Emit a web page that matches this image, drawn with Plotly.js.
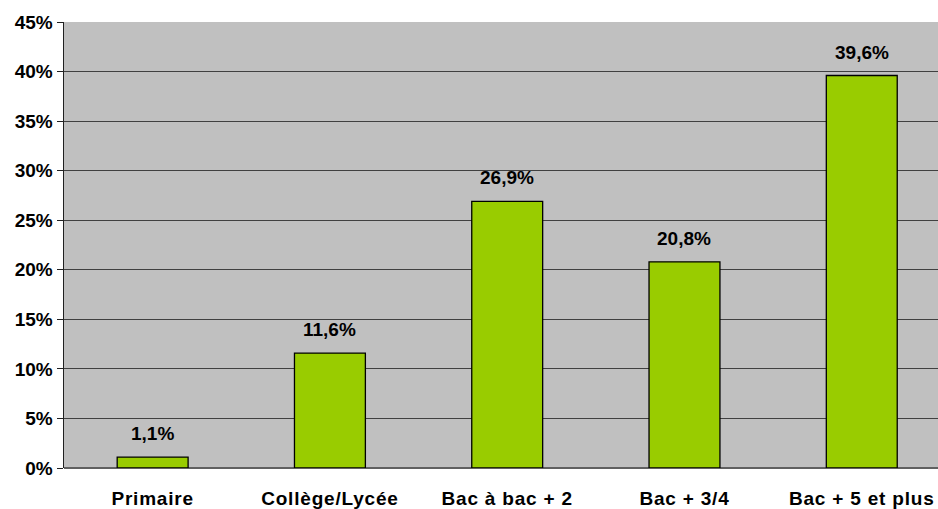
<!DOCTYPE html>
<html>
<head>
<meta charset="utf-8">
<script src="https://cdn.plot.ly/plotly-3.0.1.min.js"></script>
<style>html,body{margin:0;padding:0;background:#fff;}#chart{width:938px;height:509px;}
.xtick text{letter-spacing:0.8px;}</style>
</head>
<body>
<div id="chart"></div>
<script>
const categories = ["Primaire", "Collège/Lycée", "Bac à bac + 2", "Bac + 3/4", "Bac + 5 et plus"];
const values = [1.1, 11.6, 26.9, 20.8, 39.6];
const yTicks = [0, 5, 10, 15, 20, 25, 30, 35, 40, 45];

const fontFam = '"Liberation Sans", Arial, sans-serif';
const labels = values.map(v => v.toFixed(1).replace('.', ',') + '%');
const FS = 19;

const trace = {
  type: 'bar',
  x: categories,
  y: values,
  marker: { color: '#99CC00', line: { color: '#000000', width: 1.3 } },
  hoverinfo: 'none'
};

const annotations = categories.map((c, i) => ({
  x: c, y: values[i], xref: 'x', yref: 'y',
  text: labels[i], showarrow: false,
  yanchor: 'bottom', yshift: 11,
  font: { family: fontFam, size: FS, color: '#000', weight: 'bold' }
}));

const layout = {
  width: 938, height: 509,
  margin: { l: 64, r: 0, t: 22, b: 41 },
  paper_bgcolor: '#ffffff',
  plot_bgcolor: '#C0C0C0',
  bargap: 0.6,
  showlegend: false,
  font: { family: fontFam, size: FS, color: '#000', weight: 'bold' },
  xaxis: {
    type: 'category',
    range: [-0.5, 4.43],
    showgrid: false,
    showline: false,
    zeroline: false,
    ticks: 'outside', ticklen: 13, tickcolor: 'rgba(0,0,0,0)',
    tickfont: { family: fontFam, size: FS, color: '#000', weight: 'bold' }
  },
  yaxis: {
    range: [0, 45],
    tickvals: yTicks,
    ticktext: yTicks.map(t => t + '%'),
    showgrid: true, gridcolor: '#404040', gridwidth: 1,
    zeroline: true, zerolinecolor: '#606060', zerolinewidth: 1.5,
    showline: true, linecolor: '#202020', linewidth: 1.5,
    ticks: 'outside', ticklen: 6, tickcolor: '#202020',
    tickfont: { family: fontFam, size: FS, color: '#000', weight: 'bold' }
  },
  annotations: annotations
};

Plotly.newPlot('chart', [trace], layout, { staticPlot: true, displayModeBar: false });
</script>
</body>
</html>
